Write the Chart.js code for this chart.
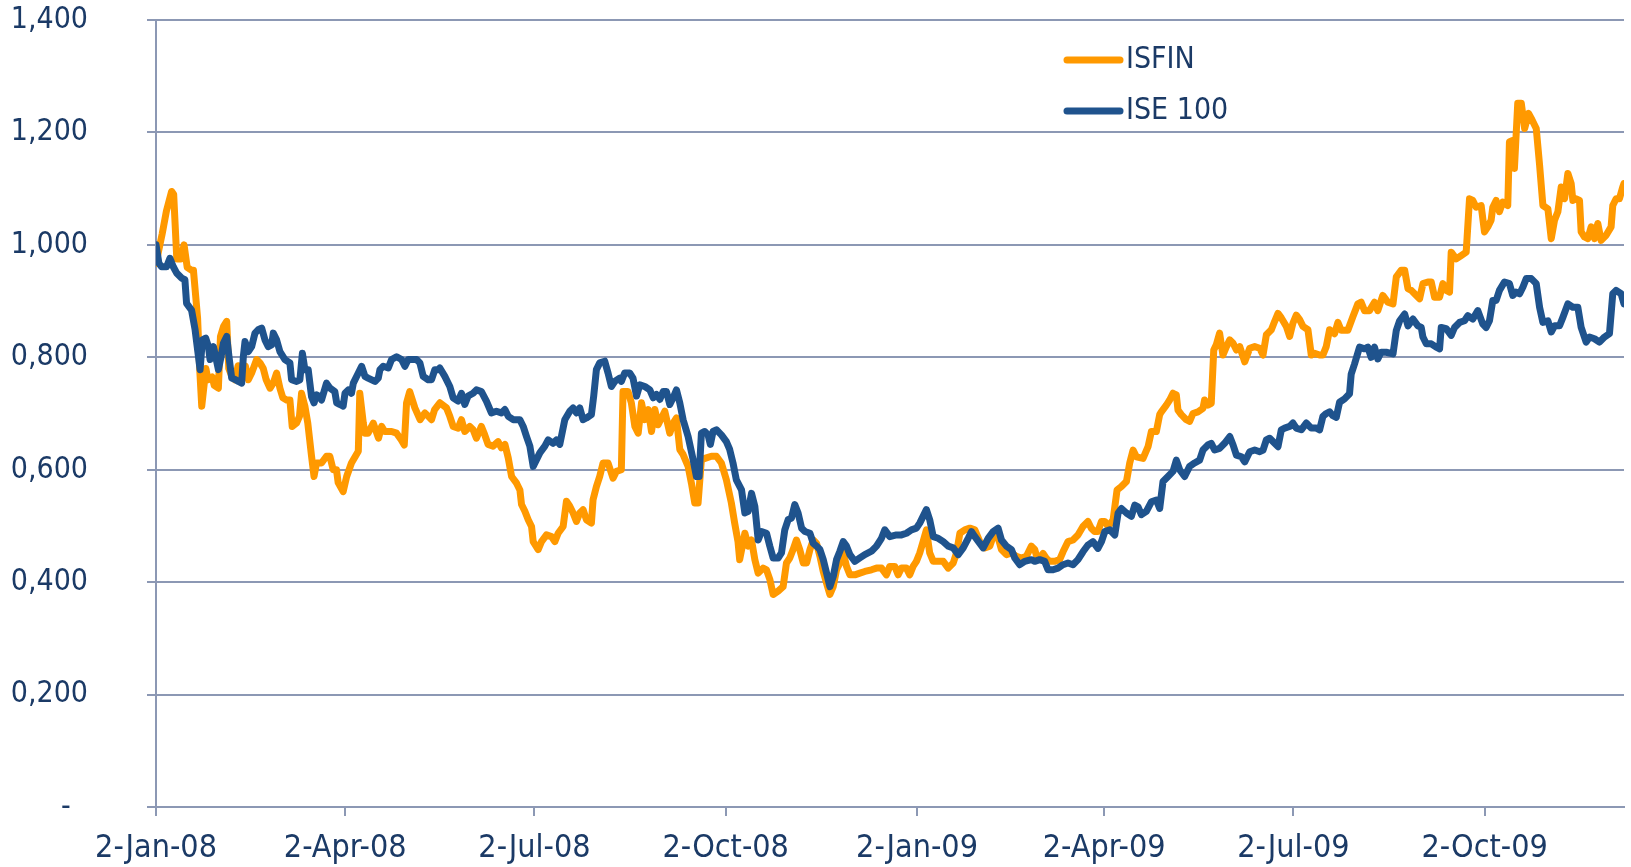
<!DOCTYPE html>
<html>
<head>
<meta charset="utf-8">
<title>ISFIN vs ISE 100</title>
<script src="https://cdn.jsdelivr.net/npm/chart.js@4.4.1/dist/chart.umd.min.js"></script>
<style>
  html, body { margin: 0; padding: 0; background: #fff; }
  #chart { display: block; }
</style>
</head>
<body>
<canvas id="chart" width="1631" height="867"></canvas>
<script>
// x = days since 2-Jan-08, y = index rebased to 1
const tickDays = [0, 91, 182, 274, 366, 456, 547, 639];
const tickLabels = ['2-Jan-08', '2-Apr-08', '2-Jul-08', '2-Oct-08', '2-Jan-09', '2-Apr-09', '2-Jul-09', '2-Oct-09'];
const lastDay = 706;

const isfinPoints = [
  [0,0.967],[3,1.02],[5,1.06],[7.5,1.095],[8.5,1.09],[10,0.975],[12,0.975],[13.5,1.0],[15,0.96],[17,0.955],[18,0.955],
  [20,0.87],[21,0.78],[22,0.713],[24,0.78],[25,0.76],[27,0.765],[28,0.75],[30,0.745],[31,0.837],[32.5,0.855],[34,0.864],
  [35,0.78],[36.5,0.766],[38,0.76],[39.5,0.785],[41,0.78],[43,0.784],[44.4,0.76],[46,0.772],[48.4,0.796],[50,0.79],
  [51.6,0.78],[53,0.76],[54.8,0.745],[56.4,0.754],[58,0.772],[59.6,0.745],[61,0.728],[62.8,0.724],[64.4,0.724],[65.5,0.677],
  [67.6,0.683],[69,0.695],[70,0.736],[71.6,0.713],[73,0.683],[74.8,0.624],[76,0.588],[77.2,0.612],[79.6,0.612],[82,0.624],
  [83.6,0.624],[85.2,0.6],[86.8,0.6],[87.6,0.577],[90,0.561],[91.7,0.588],[94,0.612],[97.3,0.633],[98,0.736],[99.7,0.683],
  [100.5,0.665],[102,0.665],[104.5,0.683],[107,0.656],[108.5,0.677],[110,0.668],[113.3,0.668],[115.7,0.665],[118,0.653],
  [119.4,0.644],[120.5,0.719],[122,0.739],[124.5,0.71],[127,0.689],[129.3,0.701],[131,0.695],[132.5,0.689],[134,0.707],
  [136.5,0.719],[139.7,0.71],[141.3,0.695],[142.9,0.677],[145.3,0.674],[146.9,0.689],[148.5,0.668],[150.9,0.677],[152.5,0.671],
  [154.1,0.656],[156.5,0.677],[158.1,0.662],[159.7,0.645],[162.1,0.642],[164.5,0.65],[166.1,0.639],[167.8,0.645],[169.4,0.621],
  [171,0.588],[173.4,0.576],[175,0.564],[175.8,0.538],[177.4,0.526],[179,0.511],[180.6,0.499],[181.4,0.472],[183.8,0.458],
  [185.4,0.472],[187.8,0.484],[190.2,0.481],[191.8,0.472],[193.4,0.487],[195.8,0.499],[197.4,0.544],[199,0.535],[200.6,0.523],
  [202.2,0.508],[203.8,0.523],[205.4,0.529],[207,0.511],[209.4,0.505],[210.2,0.547],[211.8,0.57],[213.4,0.588],[215,0.612],
  [217.4,0.612],[219.8,0.585],[221.4,0.597],[223.8,0.6],[224.6,0.739],[227,0.739],[228.6,0.719],[230.3,0.677],[231.9,0.665],
  [233.5,0.719],[235.1,0.689],[236.7,0.707],[238.3,0.668],[239.9,0.707],[241.5,0.68],[243.1,0.692],[244.7,0.704],[247.1,0.665],
  [248.7,0.683],[250.3,0.692],[251.9,0.636],[253.5,0.627],[255.9,0.606],[257.5,0.576],[259.1,0.541],[260.7,0.541],[262.3,0.618],
  [264.7,0.621],[267.1,0.624],[269.5,0.624],[271.9,0.612],[274.3,0.582],[276.7,0.541],[278.3,0.505],[279.9,0.472],[280.7,0.44],
  [283.2,0.487],[284.8,0.464],[286.4,0.475],[288,0.44],[289.6,0.416],[292,0.425],[293.6,0.422],[295.2,0.405],[296.8,0.378],
  [299.2,0.384],[301.6,0.392],[303.2,0.434],[304.8,0.443],[306.4,0.458],[308,0.475],[309.6,0.458],[311.3,0.434],[312.9,0.434],
  [314.5,0.458],[316.1,0.475],[317.7,0.469],[319.3,0.446],[320.9,0.419],[322.5,0.398],[324.1,0.378],[325.7,0.392],[327.3,0.422],
  [328.9,0.434],[330.5,0.452],[332.1,0.428],[333.7,0.413],[336.1,0.413],[338.5,0.416],[340.9,0.419],[344.1,0.422],[346.5,0.425],
  [348.9,0.425],[351.3,0.413],[352.9,0.428],[355.3,0.428],[356.9,0.413],[358.5,0.425],[360.9,0.425],[362.5,0.413],[364.1,0.428],
  [365.7,0.437],[367.3,0.452],[368.9,0.472],[370.5,0.493],[372.1,0.452],[373.8,0.437],[376.2,0.437],[378.6,0.437],[381,0.425],
  [383.4,0.434],[385,0.452],[386.6,0.487],[389,0.493],[391.4,0.496],[393.8,0.493],[396.2,0.472],[398.6,0.461],[401,0.464],
  [402.6,0.481],[404.2,0.49],[406.6,0.458],[409,0.449],[411.4,0.452],[413.8,0.446],[416.2,0.443],[418.6,0.446],[421,0.464],
  [422.6,0.458],[423.4,0.448],[425,0.442],[426.6,0.451],[428.2,0.442],[429.8,0.437],[432.2,0.437],[434.6,0.44],[436.2,0.454],
  [438.6,0.472],[441,0.475],[443.4,0.484],[445.8,0.499],[448.2,0.508],[449.8,0.496],[451.4,0.49],[453,0.49],[454.7,0.508],
  [456.3,0.508],[457.9,0.499],[460.3,0.511],[462.2,0.564],[464.3,0.57],[466.7,0.579],[468.3,0.612],[469.9,0.635],[471.5,0.623],
  [474.7,0.62],[477.1,0.641],[478.7,0.668],[481.1,0.668],[482.7,0.698],[483.5,0.703],[485.9,0.715],[487.5,0.724],[489.1,0.736],
  [490.7,0.733],[491.5,0.706],[493.1,0.698],[495.5,0.689],[497.1,0.686],[498.7,0.7],[501.1,0.703],[503.5,0.709],[504.3,0.724],
  [505.9,0.715],[507.5,0.718],[508.7,0.813],[509.9,0.822],[511.5,0.843],[513.1,0.804],[514.8,0.819],[516.4,0.831],[518,0.825],
  [519.6,0.813],[521.2,0.819],[523.6,0.792],[526,0.816],[528.4,0.819],[530.8,0.816],[532.4,0.804],[534,0.84],[536.4,0.849],
  [538,0.864],[539.6,0.878],[541.2,0.87],[543.6,0.855],[545.2,0.837],[546.8,0.861],[548.4,0.875],[550,0.867],[551.6,0.855],
  [554,0.849],[555.6,0.804],[557.2,0.807],[559.6,0.804],[561.2,0.804],[562.8,0.819],[564.4,0.849],[566.8,0.842],[568.4,0.862],
  [570,0.848],[573.2,0.848],[575.6,0.872],[578,0.895],[579.6,0.898],[581.2,0.883],[583.6,0.883],[586,0.898],[587.6,0.883],
  [590,0.91],[592.4,0.898],[594.9,0.895],[596.5,0.943],[598.9,0.955],[600.5,0.955],[602.1,0.922],[603.7,0.919],[605.3,0.913],
  [607.7,0.904],[609.3,0.931],[611.7,0.934],[613.3,0.934],[614.9,0.907],[617.3,0.907],[618.9,0.931],[620.5,0.919],[622.1,0.916],
  [622.9,0.987],[625.3,0.975],[627.7,0.981],[630.1,0.987],[631.7,1.082],[633.3,1.079],[634.9,1.067],[637.3,1.07],[638.9,1.023],
  [640.5,1.032],[642.1,1.044],[642.9,1.067],[644.5,1.079],[646.1,1.059],[647.7,1.076],[650.1,1.07],[650.9,1.183],[652.5,1.186],
  [653.3,1.136],[654.9,1.252],[656.6,1.252],[658.2,1.207],[660.1,1.234],[661.4,1.225],[663.8,1.207],[665.4,1.142],[667,1.07],
  [669.4,1.064],[671,1.011],[672.6,1.044],[674.2,1.059],[675.8,1.103],[677.4,1.082],[679,1.127],[680.6,1.109],[681.4,1.079],
  [683,1.082],[684.6,1.079],[685.4,1.023],[687,1.014],[688.6,1.011],[690.2,1.032],[691.8,1.011],[693.4,1.038],[695,1.008],
  [697.4,1.017],[699.8,1.032],[700.6,1.07],[702.2,1.082],[703.8,1.082],[705.4,1.103],[706,1.109]
];

const ise100Points = [
  [0,1.0],[1.4,0.967],[2.7,0.961],[5.1,0.961],[6.7,0.976],[8.3,0.961],[9.9,0.95],[12.3,0.941],[13.9,0.938],[14.7,0.896],
  [17.1,0.884],[18.8,0.849],[21.2,0.778],[22.3,0.831],[23.9,0.834],[25.2,0.819],[26,0.796],[27.6,0.819],[28.7,0.801],[30,0.778],
  [31.3,0.801],[32.4,0.825],[34,0.837],[35.1,0.801],[36.4,0.763],[38.3,0.76],[39.6,0.757],[41.2,0.754],[42,0.801],[42.8,0.828],
  [44.4,0.81],[46,0.819],[47.6,0.843],[49.2,0.849],[50.8,0.852],[52.4,0.831],[54,0.819],[55.6,0.822],[56.4,0.843],[58,0.831],
  [59.6,0.81],[62,0.796],[64.4,0.79],[65.2,0.76],[67.6,0.757],[69.2,0.76],[70.4,0.807],[71.6,0.778],[73.2,0.778],[74.8,0.73],
  [76,0.719],[77.2,0.733],[78.8,0.73],[79.6,0.724],[82,0.754],[83.7,0.745],[86,0.739],[86.9,0.719],[88.5,0.716],[90,0.713],
  [90.9,0.736],[92.5,0.742],[94,0.736],[94.9,0.754],[97.3,0.772],[98.9,0.784],[100.5,0.766],[102,0.763],[105.3,0.757],
  [106.9,0.763],[107.7,0.778],[109.3,0.784],[111.7,0.781],[113.3,0.796],[115.7,0.801],[118.1,0.796],[119.7,0.784],[121.3,0.796],
  [122.9,0.796],[125.3,0.796],[126.9,0.79],[128.5,0.766],[130.9,0.76],[132.5,0.76],[134.1,0.778],[135.7,0.778],
  [136.5,0.781],[138.9,0.766],[141.3,0.748],[142.9,0.728],[145.3,0.722],[146.9,0.736],[148.5,0.716],[150.1,0.731],[152.5,0.736],
  [154.1,0.742],[156.5,0.739],[158.9,0.722],[161.3,0.701],[163.7,0.704],[166.1,0.701],[167.8,0.707],[169.4,0.695],[171.8,0.689],
  [175,0.689],[176.6,0.677],[178.2,0.659],[179.8,0.642],[181.4,0.606],[183,0.618],[184.6,0.63],[187,0.642],[188.6,0.653],
  [191,0.647],[192.6,0.653],[194.2,0.645],[196.6,0.689],[199,0.704],[200.6,0.71],[202.2,0.701],[203.8,0.71],[205.4,0.689],
  [207,0.692],[209.4,0.698],[210.5,0.731],[211.8,0.778],[213.4,0.79],[215.8,0.793],[217.4,0.772],[219,0.748],[220.6,0.757],
  [223,0.763],[223.8,0.757],[225.4,0.772],[227.8,0.772],[229.4,0.763],[231.1,0.731],[232.7,0.751],[235.1,0.748],[237.5,0.742],
  [239.1,0.728],[240.7,0.734],[242.3,0.725],[243.9,0.739],[245.5,0.739],[247.1,0.716],[248.7,0.728],[250.3,0.742],[251.9,0.719],
  [253.5,0.689],[255.9,0.659],[258.3,0.618],[259.9,0.588],[261.2,0.588],[262.3,0.665],[263.9,0.668],[265.5,0.662],[266.6,0.645],
  [267.9,0.668],[269.5,0.671],[271.9,0.662],[274.3,0.65],[275.9,0.636],[277.5,0.612],[279.1,0.582],
  [281.6,0.564],[283.2,0.523],[284.8,0.526],[286.4,0.558],[288,0.535],[289.6,0.475],[291.2,0.49],[293.6,0.487],[295.2,0.464],
  [296.8,0.443],[299.2,0.443],[300.8,0.452],[302.4,0.493],[304,0.511],[305.6,0.514],[307.2,0.538],[308.8,0.523],[310.5,0.496],
  [312.1,0.49],[314.5,0.487],[316.1,0.469],[317.7,0.464],[319.3,0.458],[320.9,0.44],[322.5,0.416],[324.1,0.392],[325.7,0.41],
  [327.3,0.44],[328.9,0.455],[330.5,0.472],[332.1,0.464],[333.7,0.449],[336.1,0.437],[338.5,0.443],[340.9,0.449],[344.1,0.455],
  [346.5,0.464],[348.9,0.478],[350.5,0.493],[352.9,0.481],[356.1,0.484],[358.5,0.484],[360.9,0.487],[363.3,0.493],[365.7,0.496],
  [367.3,0.505],[368.9,0.517],[370.5,0.529],[372.1,0.511],[373.8,0.481],[376.2,0.478],[378.6,0.472],[381,0.464],[383.4,0.461],
  [385.8,0.449],[388.2,0.461],[390.6,0.478],[392.2,0.49],[393.8,0.481],[396.2,0.469],[397.8,0.461],[400.2,0.478],[402.6,0.49],
  [405,0.496],[406.6,0.475],[409,0.464],[411.4,0.458],[413,0.443],[415.4,0.431],[417.8,0.437],[421,0.44],[422.6,0.437],
  [425,0.44],[427.4,0.437],[429,0.422],[431.4,0.422],[433.8,0.425],[436.2,0.431],[438.6,0.434],[441,0.431],[443.4,0.44],
  [445.8,0.454],[448.2,0.466],[450.6,0.472],[453,0.46],[454.7,0.472],[456.3,0.49],[458.7,0.493],[461.1,0.484],[462.7,0.523],
  [464.3,0.531],[466.7,0.523],[469.1,0.517],[470.7,0.537],[472.3,0.534],[473.9,0.52],[476.3,0.526],[478.7,0.543],[481.1,0.546],
  [482.7,0.531],[484.3,0.579],[486.7,0.588],[489.1,0.597],[490.7,0.617],[492.3,0.6],[494.7,0.588],[497.1,0.606],[499.5,0.612],
  [501.9,0.617],[503.5,0.635],[505.9,0.644],[507.5,0.647],[509.1,0.635],[511.5,0.638],[513.9,0.647],[516.4,0.659],[518,0.644],
  [519.6,0.626],[522,0.623],[523.6,0.614],[526,0.632],[528.4,0.635],[530.8,0.632],[532.4,0.635],[534,0.653],[535.6,0.656],
  [538,0.647],[539.6,0.641],[541.2,0.671],[542.8,0.674],[545.2,0.677],[546.8,0.683],[548.4,0.674],[550.8,0.671],[553.2,0.683],
  [555.6,0.674],[558,0.674],[559.6,0.671],[561.2,0.695],[562.8,0.7],[564.4,0.703],[566,0.696],[567.6,0.693],[569.2,0.72],
  [571.6,0.726],[574,0.735],[574.8,0.77],[576.4,0.788],[578.8,0.818],[581.2,0.815],[582.8,0.818],[584.4,0.8],[586,0.818],
  [587.6,0.797],[589.2,0.809],[591.6,0.809],[594.9,0.806],[596.5,0.848],[598.1,0.865],[600.5,0.877],[602.1,0.856],[604.5,0.868],
  [606.9,0.856],[608.5,0.853],[609.3,0.836],[610.9,0.824],[613.3,0.824],[615.7,0.818],[617.3,0.815],[618.1,0.853],[620.5,0.851],
  [622.9,0.839],[624.5,0.853],[626.9,0.862],[629.3,0.865],[630.9,0.874],[633.3,0.868],[635.7,0.883],[638.1,0.859],[639.7,0.853],
  [641.3,0.865],[642.9,0.901],[644.5,0.901],[646.1,0.919],[648.5,0.934],[650.9,0.931],[652.5,0.91],[654.1,0.916],[655.8,0.913],
  [657.4,0.925],[659,0.94],[661.4,0.94],[663.8,0.931],[665.4,0.889],[667,0.862],[669.4,0.865],[671,0.845],[672.6,0.856],
  [675,0.856],[676.6,0.871],[679,0.895],[681.4,0.889],[683.8,0.889],[685.4,0.853],[687.8,0.827],[689.4,0.836],[691.8,0.833],
  [694.2,0.827],[696.6,0.836],[699,0.842],[700.6,0.913],[702.2,0.919],[704.6,0.913],[706,0.895]
];

const FONT = '"DejaVu Sans Condensed", "DejaVu Sans", sans-serif';
const TEXT_COLOR = '#1B3A66';
const GRID_COLOR = '#8C98B4';
const ORANGE = '#FF9900';
const BLUE = '#1F538D';

const toXY = pts => pts.map(p => ({ x: p[0], y: p[1] }));

// legend drawn as a short stacked list inside the plot, like the original
const stackedLegend = {
  id: 'stackedLegend',
  afterDatasetsDraw(chart) {
    const ctx = chart.ctx;
    ctx.save();
    ctx.font = '30px ' + FONT;
    ctx.textBaseline = 'middle';
    chart.data.datasets.forEach((ds, i) => {
      const y = 60 + i * 51;
      ctx.strokeStyle = ds.borderColor;
      ctx.lineWidth = 7;
      ctx.lineCap = 'round';
      ctx.beginPath();
      ctx.moveTo(1067, y);
      ctx.lineTo(1120, y);
      ctx.stroke();
      ctx.fillStyle = TEXT_COLOR;
      ctx.fillText(ds.label, 1126, y);
    });
    ctx.restore();
  }
};

new Chart(document.getElementById('chart'), {
  type: 'line',
  data: {
    datasets: [
      {
        label: 'ISFIN',
        data: toXY(isfinPoints),
        borderColor: ORANGE,
        borderWidth: 7,
        pointRadius: 0,
        borderJoinStyle: 'round',
        borderCapStyle: 'round',
        order: 1
      },
      {
        label: 'ISE 100',
        data: toXY(ise100Points),
        borderColor: BLUE,
        borderWidth: 7,
        pointRadius: 0,
        borderJoinStyle: 'round',
        borderCapStyle: 'round',
        order: 0
      }
    ]
  },
  options: {
    responsive: false,
    animation: false,
    layout: { padding: { top: 20, right: 7, bottom: 0, left: 0 } },
    plugins: {
      legend: { display: false },
      tooltip: { enabled: false }
    },
    scales: {
      x: {
        type: 'linear',
        min: 0,
        max: lastDay,
        afterBuildTicks: scale => {
          scale.ticks = tickDays.map(v => ({ value: v }));
        },
        afterFit: scale => { scale.height = 60; },
        grid: {
          drawOnChartArea: false,
          drawTicks: true,
          tickLength: 9,
          color: GRID_COLOR,
          lineWidth: 2
        },
        border: { color: GRID_COLOR, width: 2 },
        ticks: {
          autoSkip: false,
          maxRotation: 0,
          padding: 13,
          color: TEXT_COLOR,
          font: { family: FONT, size: 32 },
          callback: (value, index) => tickLabels[index]
        }
      },
      y: {
        min: 0,
        max: 1.4,
        afterFit: scale => {
          // the wide label gap should not push the plot down from the top
          scale.width = 156;
          scale.paddingTop = 18;
          scale.paddingBottom = 0;
        },
        grid: {
          color: GRID_COLOR,
          lineWidth: 2,
          drawTicks: true,
          tickLength: 9
        },
        border: { color: GRID_COLOR, width: 2 },
        ticks: {
          stepSize: 0.2,
          padding: 59,
          color: TEXT_COLOR,
          font: { family: FONT, size: 30 },
          callback: value => Math.abs(value) < 1e-9 ? '-  ' : value.toFixed(3).replace('.', ',')
        }
      }
    }
  },
  plugins: [stackedLegend]
});
</script>
</body>
</html>
